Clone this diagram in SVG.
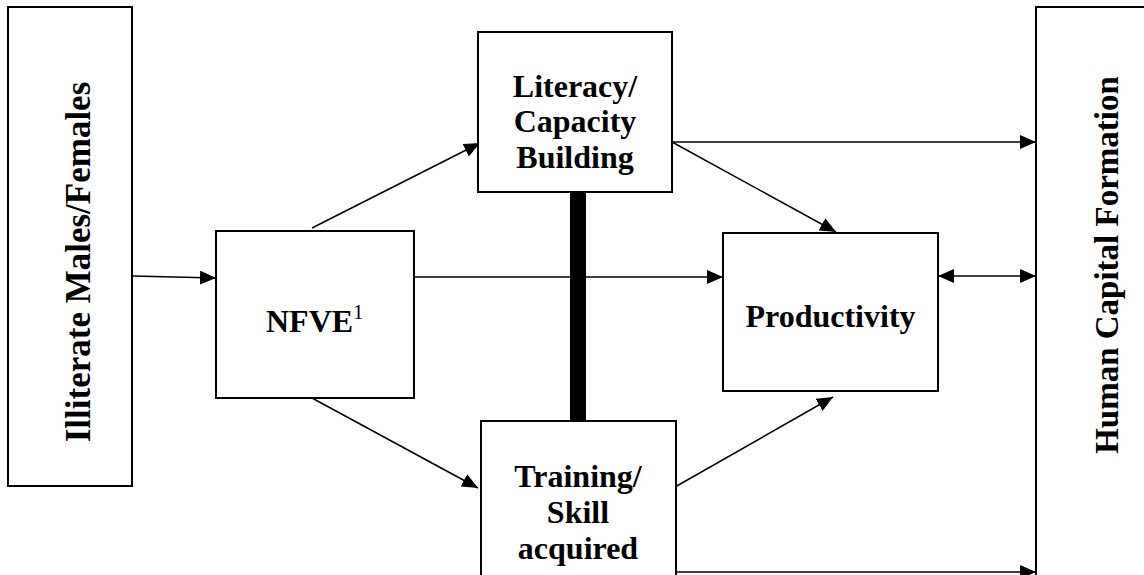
<svg xmlns="http://www.w3.org/2000/svg" width="1144" height="575" viewBox="0 0 1144 575">
<style>
.box{fill:#fff;stroke:#000;stroke-width:2}
.lbl{font-family:"Liberation Serif","Times New Roman",serif;font-weight:bold;fill:#000}
.con{stroke:#000;stroke-width:1.5;fill:none}
</style>
<defs>
<marker id="ah" markerUnits="userSpaceOnUse" markerWidth="16" markerHeight="14" refX="16" refY="7" orient="auto-start-reverse">
<path d="M0,0 L16,7 L0,14 z" fill="#000"/>
</marker>
</defs>
<rect width="1144" height="575" fill="#fff"/>
<g id="connectors">
<line class="con" x1="132" y1="276" x2="216" y2="278" marker-end="url(#ah)"/>
<line class="con" x1="312" y1="228" x2="480" y2="143" marker-end="url(#ah)"/>
<line class="con" x1="312" y1="398" x2="478" y2="488" marker-end="url(#ah)"/>
<line class="con" x1="414" y1="277" x2="723" y2="277" marker-end="url(#ah)"/>
<line class="con" x1="672" y1="142" x2="1036" y2="142" marker-end="url(#ah)"/>
<line class="con" x1="672" y1="142" x2="836" y2="232" marker-end="url(#ah)"/>
<line class="con" x1="675" y1="487" x2="833" y2="397" marker-end="url(#ah)"/>
<line class="con" x1="938" y1="276" x2="1036" y2="276" marker-start="url(#ah)" marker-end="url(#ah)"/>
<line class="con" x1="676" y1="572" x2="1036" y2="572" marker-end="url(#ah)"/>
<rect x="570" y="192" width="16" height="229" fill="#000"/>
</g>
<g id="illiterate">
<rect class="box" x="8" y="7" width="124" height="479"/>
<text class="lbl" font-size="35" text-anchor="middle" transform="translate(90,262) rotate(-90)">Illiterate Males/Females</text>
</g>
<g id="nfve">
<rect class="box" x="216" y="231" width="198" height="167"/>
<text class="lbl" font-size="32" x="266" y="332">NFVE<tspan font-weight="normal" font-size="21" dy="-13">1</tspan></text>
</g>
<g id="literacy">
<rect class="box" x="478" y="32" width="194" height="160"/>
<text class="lbl" font-size="32" text-anchor="middle"><tspan x="575" y="97">Literacy/</tspan><tspan x="575" y="132">Capacity</tspan><tspan x="575" y="168">Building</tspan></text>
</g>
<g id="training">
<rect class="box" x="481" y="421" width="195" height="160"/>
<text class="lbl" font-size="32" text-anchor="middle"><tspan x="578" y="487">Training/</tspan><tspan x="578" y="523">Skill</tspan><tspan x="578" y="559">acquired</tspan></text>
</g>
<g id="productivity">
<rect class="box" x="723" y="233" width="215" height="158"/>
<text class="lbl" font-size="32" text-anchor="middle" x="830.5" y="327">Productivity</text>
</g>
<g id="hcf">
<rect class="box" x="1036" y="7" width="120" height="580"/>
<text class="lbl" font-size="33" text-anchor="middle" transform="translate(1118,265) rotate(-90)">Human Capital Formation</text>
</g>
</svg>
